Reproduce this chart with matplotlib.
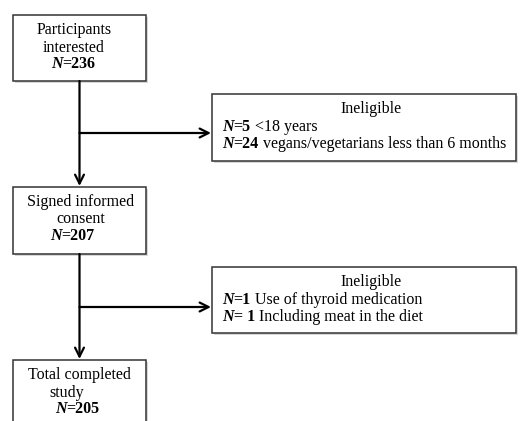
"""Flow chart of study participants"""

import matplotlib.pyplot as plt
from matplotlib.patches import Rectangle

# data
stage_labels = ["Participants\ninterested", "Signed informed\nconsent", "Total completed\nstudy"]
stage_n = [236, 207, 205]
excl_title = ["Ineligible", "Ineligible"]
excl_prefix = [["N=", "N="], ["N=", "N= "]]
excl_counts = [[5, 24], [1, 1]]
excl_reasons = [[" <18 years", " vegans/vegetarians less than 6 months"],
                [" Use of thyroid medication", " Including meat in the diet"]]

# layout (pixels)
stage_box = [(13, 15, 146, 81), (13, 187, 146, 254), (13, 360, 146, 440)]
excl_box = [(212, 94, 516, 161), (212, 267, 516, 333)]
excl_y = [133, 307]
line_x = 79.5

plt.rcParams['font.family'] = ['Liberation Serif', 'DejaVu Serif']
FS = 11.5

fig = plt.figure(figsize=(5.2, 4.21), dpi=100)
ax = fig.add_axes([0, 0, 1, 1])
ax.set_xlim(0, 520)
ax.set_ylim(421, 0)
ax.axis('off')


def box(x0, y0, x1, y1):
    # тень
    ax.add_patch(Rectangle((x0 + 2, y0 + 2), x1 - x0, y1 - y0, fc='#d8d8d8', ec='none', zorder=1))
    ax.add_patch(Rectangle((x0, y0), x1 - x0, y1 - y0, fc='white', ec='#333333', lw=1.1, zorder=2))


def rich_line(x, y, parts):
    # parts: (text, weight, style)
    prev = None
    for s, w, st in parts:
        if prev is None:
            prev = ax.text(x, y, s, fontsize=FS, fontweight=w, fontstyle=st, va='baseline', ha='left', zorder=3)
        else:
            prev = ax.annotate(s, xy=(1, 0), xycoords=prev, fontsize=FS, fontweight=w, fontstyle=st,
                               va='bottom', ha='left', zorder=3)
    return prev


# stage boxes
text_y = [(34, 52, 68), (206, 223, 240), (379, 397, 413)]
line1_x = [74, 81, 79]
line2_x = [74, 81, 67]
n_x = [51, 50, 55]
for i in range(3):
    box(*stage_box[i])
    l1, l2 = stage_labels[i].split('\n')
    ax.text(line1_x[i], text_y[i][0], l1, fontsize=FS, ha='center', va='baseline', zorder=3)
    ax.text(line2_x[i], text_y[i][1], l2, fontsize=FS, ha='center', va='baseline', zorder=3)
    rich_line(n_x[i], text_y[i][2], [("N", 'bold', 'italic'), ("=%d" % stage_n[i], 'bold', 'normal')])

# vertical arrows
for i in range(2):
    ax.annotate('', xy=(line_x, stage_box[i + 1][1] - 1), xytext=(line_x, stage_box[i][3]),
                arrowprops=dict(arrowstyle='->', lw=1.6, color='black', mutation_scale=16,
                                shrinkA=0, shrinkB=0), zorder=3)

# exclusion boxes
for j in range(2):
    box(*excl_box[j])
    ax.annotate('', xy=(excl_box[j][0] - 1, excl_y[j]), xytext=(line_x, excl_y[j]),
                arrowprops=dict(arrowstyle='->', lw=1.6, color='black', mutation_scale=16,
                                shrinkA=0, shrinkB=0), zorder=3)
    y0 = excl_box[j][1]
    ax.text(371, y0 + 19, excl_title[j], fontsize=FS, ha='center', va='baseline', zorder=3)
    for k in range(2):
        rich_line(222, y0 + 37 + 17 * k,
                  [(excl_prefix[j][k][0], 'bold', 'italic'),
                   (excl_prefix[j][k][1:] + str(excl_counts[j][k]), 'bold', 'normal'),
                   (excl_reasons[j][k], 'normal', 'normal')])

plt.savefig('out.png', dpi=100)
